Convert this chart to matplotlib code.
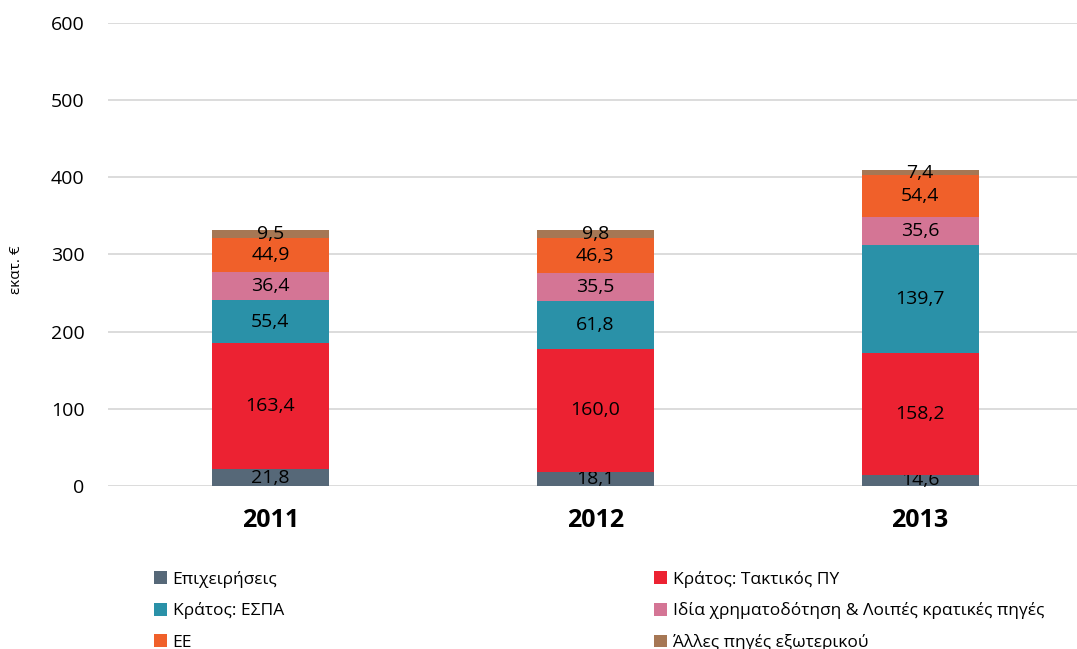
import matplotlib.pyplot as plt
import numpy as np

plt.rcParams['font.family'] = ['Open Sans', 'DejaVu Sans']

years = ["2011", "2012", "2013"]
series = [
    "Επιχειρήσεις",
    "Κράτος: Τακτικός ΠΥ",
    "Κράτος: ΕΣΠΑ",
    "Ιδία χρηματοδότηση & Λοιπές κρατικές πηγές",
    "ΕΕ",
    "Άλλες πηγές εξωτερικού",
]
epixeiriseis = [21.8, 18.1, 14.6]
taktikos = [163.4, 160.0, 158.2]
espa = [55.4, 61.8, 139.7]
idia = [36.4, 35.5, 35.6]
ee = [44.9, 46.3, 54.4]
alles = [9.5, 9.8, 7.4]
values = [epixeiriseis, taktikos, espa, idia, ee, alles]
colors = ["#566878", "#EC2232", "#2A91A8", "#D47595", "#F0602A", "#A67754"]

fig = plt.figure(figsize=(10.77, 6.49), dpi=100)
ax = fig.add_axes([108 / 1077, 163 / 649, 1 - 108 / 1077, 463 / 649])

x = np.arange(len(years))
bottom = np.zeros(len(years))
handles = []
for name, vals, col in zip(series, values, colors):
    bars = ax.bar(x, vals, width=0.36, bottom=bottom, color=col, label=name, zorder=3)
    ax.bar_label(bars, labels=[f"{v:.1f}".replace(".", ",") for v in vals],
                 label_type="center", fontsize=14, color="black")
    bottom += np.array(vals)
    handles.append(bars)

ax.set_ylim(0, 600)
ax.set_yticks(range(0, 601, 100))
ax.set_xlim(-0.5, 2.5 - 5.5 / 325)
ax.set_xticks(x)
ax.set_xticklabels(years, fontsize=18, fontweight="bold")
ax.tick_params(axis="y", labelsize=14, length=0, pad=17)
ax.tick_params(axis="x", length=0, pad=16)
ax.grid(axis="y", color="#D9D9D9", linewidth=1.3, zorder=0)
for s in ax.spines.values():
    s.set_visible(False)
fig.text(17 / 1077, 1 - 270 / 649, "εκατ. €", rotation=90, fontsize=11,
         ha="center", va="center")

order = [0, 2, 4, 1, 3, 5]
leg = fig.legend([handles[i] for i in order], [series[i] for i in order],
                 ncol=2, loc="upper left", bbox_to_anchor=(138 / 1077, 1 - 555 / 649),
                 frameon=False, fontsize=12.5, handlelength=0.75, handleheight=0.75,
                 handletextpad=0.35, columnspacing=21.3, labelspacing=0.85)

fig.savefig("out.png", dpi=100)
